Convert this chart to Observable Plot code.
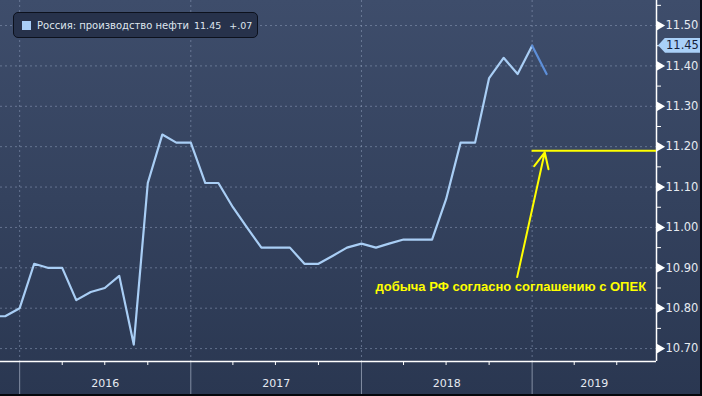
<!DOCTYPE html>
<html>
<head>
<meta charset="utf-8">
<script src="https://cdn.jsdelivr.net/npm/d3@7"></script>
<script src="https://cdn.jsdelivr.net/npm/@observablehq/plot@0.6"></script>
<style>
  html, body { margin: 0; padding: 0; background: #2b3853; }
  #wrap { position: relative; width: 702px; height: 396px; overflow: hidden; }
  #legend {
    position: absolute; left: 13px; top: 12px; width: 243px; height: 24px;
    background: #27324b; border: 1px solid #0c111d; border-radius: 5px;
    font-family: "DejaVu Sans", sans-serif; font-size: 10px; color: #dfe5ee;
    display: flex; align-items: center; white-space: pre; overflow: hidden;
  }
  #legend .sw { flex: 0 0 9px; width: 9px; height: 9px; background: #a9cef8; margin-left: 8px; margin-right: 6px; }
  #legend span { flex: 0 0 auto; }
  #legend .v { margin-left: 5px; font-size: 9.5px; }
  #legend .c { margin-left: 8px; font-size: 9.5px; }
  #tag {
    position: absolute; height: 15px; background: #a9d0f8; color: #17213a;
    font-family: "DejaVu Sans", sans-serif; font-size: 11.5px; line-height: 15px;
    padding-left: 8px; box-sizing: border-box;
    clip-path: polygon(0 50%, 7px 0, 100% 0, 100% 100%, 7px 100%);
  }
  .edgeR { position: absolute; right: 0; top: 0; width: 2px; height: 396px; background: #05070c; }
  .edgeB { position: absolute; left: 0; bottom: 0; height: 2px; width: 702px; background: #05070c; }
</style>
</head>
<body>
<div id="wrap"></div>
<script>
// ---- data ----
const months = ["2015-11","2015-12","2016-01","2016-02","2016-03","2016-04","2016-05","2016-06","2016-07","2016-08","2016-09","2016-10","2016-11","2016-12",
  "2017-01","2017-02","2017-03","2017-04","2017-05","2017-06","2017-07","2017-08","2017-09","2017-10","2017-11","2017-12",
  "2018-01","2018-02","2018-03","2018-04","2018-05","2018-06","2018-07","2018-08","2018-09","2018-10","2018-11","2018-12",
  "2019-01","2019-02"];
const production = [10.78,10.78,10.80,10.91,10.90,10.90,10.82,10.84,10.85,10.88,10.71,11.11,11.23,11.21,
  11.21,11.11,11.11,11.05,11.00,10.95,10.95,10.95,10.91,10.91,10.93,10.95,
  10.96,10.95,10.96,10.97,10.97,10.97,11.07,11.21,11.21,11.37,11.42,11.38,
  11.45,11.38];
const years = ["2016","2017","2018","2019"];
const yTicks = [10.70,10.80,10.90,11.00,11.10,11.20,11.30,11.40,11.50];
const yMinorTicks = [10.75,10.85,10.95,11.05,11.15,11.25,11.35,11.45,11.55];
const seriesName = "Россия: производство нефти";
const lastValue = 11.45;
const lastChange = "+.07";
const opecLevel = 11.19;
const opecStart = "2019-01-01";
const annotationText = "добыча РФ согласно соглашению с ОПЕК";
const arrowFrom = {date: "2018-11-30", value: 10.877};
const arrowTo = {date: "2019-01-28", value: 11.186};
const textPos = {date: "2018-01-31", value: 10.853};
const xDomain = ["2015-11-21", "2019-09-24"];
const yDomain = [10.668, 11.562];

// ---- build ----
const D = s => new Date(s.length === 7 ? s + "-01" : s);
const rows = months.map((m, i) => ({date: D(m), value: production[i]}));
const x0 = D(xDomain[0]), x1 = D(xDomain[1]);
const yearStarts = years.map(y => D(y + "-01-01"));
const yearRows = years.map((y, i) => {
  const s = yearStarts[i];
  const e = new Date(Math.min(D((+y + 1) + "-01-01"), x1));
  return {year: y, mid: new Date((+s + +e) / 2)};
});
const quarters = [];
for (const y of years) for (const m of ["04","07","10"]) {
  const d = D(y + "-" + m + "-01"); if (d < x1) quarters.push(d);
}
const font = "DejaVu Sans, sans-serif";
const chart = Plot.plot({
  width: 702, height: 396,
  marginLeft: 0, marginRight: 46, marginTop: 0, marginBottom: 35,
  style: {background: "linear-gradient(#3e4d6b, #2a3751)", fontFamily: font},
  x: {type: "utc", domain: [x0, x1], axis: null},
  y: {domain: yDomain, axis: null},
  marks: [
    Plot.gridY(yTicks, {stroke: "#8e9dba", strokeOpacity: 0.55, strokeDasharray: "2,3"}),
    Plot.gridX(yearStarts, {stroke: "#8e9dba", strokeOpacity: 0.55, strokeDasharray: "2,3"}),
    Plot.axisX(yearStarts, {anchor: "bottom", label: null, tickSize: 35, stroke: "#9aa4b8", strokeOpacity: 0.8, tickFormat: () => ""}),
    Plot.axisX(quarters, {anchor: "bottom", label: null, tickSize: 4, stroke: "#ffffff", tickFormat: () => ""}),
    Plot.text(yearRows, {x: "mid", text: "year", frameAnchor: "bottom", dy: 25, fill: "#e6eaf1", fontSize: 11, fontFamily: font}),
    Plot.ruleY([yDomain[0]], {stroke: "#ffffff", strokeWidth: 1.5}),
    Plot.ruleX([x1], {stroke: "#ffffff", strokeWidth: 1.5}),
    Plot.axisY(yMinorTicks, {anchor: "right", label: null, tickSize: 4, stroke: "#ffffff", tickFormat: () => ""}),
    Plot.dot(yTicks, {y: d => d, frameAnchor: "right", symbol: "triangle", rotate: 90, r: 3.6, fill: "#ffffff", stroke: null, dx: 3}),
    Plot.axisY(yTicks, {anchor: "right", label: null, tickSize: 0, tickPadding: 9, tickFormat: d3.format(".2f"), fill: "#e6eaf1", fontSize: 11.5, fontFamily: font}),
    Plot.line(rows.slice(0, -1), {x: "date", y: "value", stroke: "#a9cef5", strokeWidth: 2.2, clip: true}),
    Plot.line(rows.slice(-2), {x: "date", y: "value", stroke: "#5d8fd9", strokeWidth: 2.2, clip: true}),
    Plot.ruleY([opecLevel], {x1: D(opecStart), x2: x1, stroke: "#ffff00", strokeWidth: 2}),
    Plot.arrow([{}], {x1: D(arrowFrom.date), y1: arrowFrom.value, x2: D(arrowTo.date), y2: arrowTo.value, stroke: "#ffff00", strokeWidth: 2, headLength: 13, headAngle: 50}),
    Plot.text([annotationText], {x: D(textPos.date), y: textPos.value, text: d => d, textAnchor: "start", fill: "#ffff00", fontWeight: "bold", fontSize: 13, fontFamily: "Liberation Sans, Arial, sans-serif"})
  ]
});
const wrap = document.getElementById("wrap");
wrap.appendChild(chart);

// last value tag on the right axis (positioned through the chart's scales)
const yv = chart.scale("y").apply(lastValue);
const xa = chart.scale("x").apply(x1);
const tag = document.createElement("div");
tag.id = "tag";
tag.style.left = (xa + 2) + "px";
tag.style.top = (yv - 7.5) + "px";
tag.style.width = (702 - xa - 2) + "px";
tag.textContent = d3.format(".2f")(lastValue);
wrap.appendChild(tag);

// legend
const lg = document.createElement("div");
lg.id = "legend";
lg.innerHTML = `<span class="sw"></span><span>${seriesName}</span><span class="v">${d3.format(".2f")(lastValue)}</span><span class="c">${lastChange}</span>`;
wrap.appendChild(lg);
const er = document.createElement("div"); er.className = "edgeR"; wrap.appendChild(er);
const eb = document.createElement("div"); eb.className = "edgeB"; wrap.appendChild(eb);
</script>
</body>
</html>
